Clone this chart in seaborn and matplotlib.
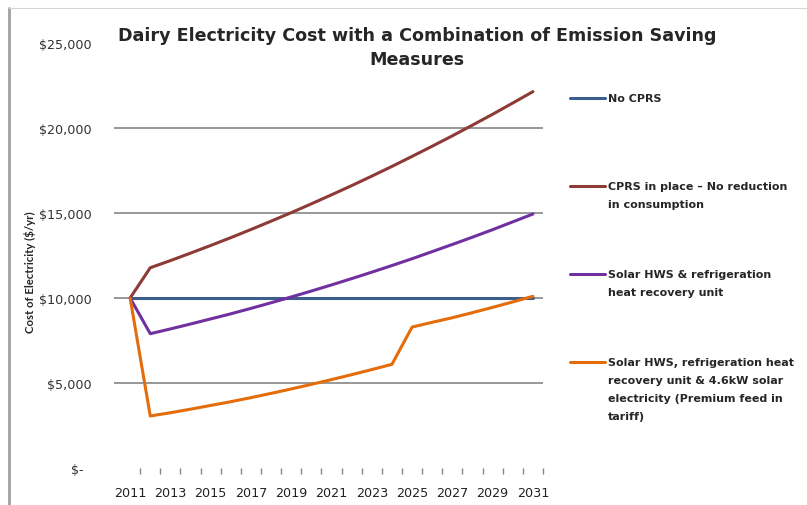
import numpy as np
import pandas as pd
import matplotlib
matplotlib.use("Agg")
import matplotlib.pyplot as plt
from matplotlib.lines import Line2D
from matplotlib.legend_handler import HandlerLine2D
from matplotlib.ticker import FuncFormatter
import seaborn as sns

# --- data ---
years = [2011, 2012, 2013, 2014, 2015, 2016, 2017, 2018, 2019, 2020, 2021,
         2022, 2023, 2024, 2025, 2026, 2027, 2028, 2029, 2030, 2031]

no_cprs = [10000, 10000, 10000, 10000, 10000, 10000, 10000, 10000, 10000, 10000, 10000,
           10000, 10000, 10000, 10000, 10000, 10000, 10000, 10000, 10000, 10000]
cprs_no_reduction = [10000, 11780, 12200, 12640, 13090, 13550, 14030, 14520, 15020, 15540, 16070,
                     16610, 17170, 17740, 18330, 18930, 19540, 20170, 20810, 21470, 22140]
solar_hws_hru = [10000, 7900, 8180, 8470, 8770, 9070, 9390, 9720, 10060, 10410, 10770,
                 11140, 11520, 11910, 12310, 12730, 13150, 13580, 14020, 14480, 14940]
solar_hws_hru_pv = [10000, 3060, 3250, 3460, 3680, 3900, 4140, 4390, 4650, 4920, 5200,
                    5490, 5790, 6100, 8290, 8570, 8840, 9140, 9450, 9770, 10100]

series_labels = [
    "No CPRS",
    "CPRS in place – No reduction\nin consumption",
    "Solar HWS & refrigeration\nheat recovery unit",
    "Solar HWS, refrigeration heat\nrecovery unit & 4.6kW solar\nelectricity (Premium feed in\ntariff)",
]
series_colors = ["#3B5E8C", "#8E3A36", "#7030A0", "#E46C0A"]

y_ticks = [0, 5000, 10000, 15000, 20000, 25000]
grid_levels = [5000, 10000, 15000, 20000]
x_labels = [2011, 2013, 2015, 2017, 2019, 2021, 2023, 2025, 2027, 2029, 2031]

title = "Dairy Electricity Cost with a Combination of Emission Saving\nMeasures"
y_label = "Cost of Electricity ($/yr)"

# --- long-format table for seaborn ---
all_values = [no_cprs, cprs_no_reduction, solar_hws_hru, solar_hws_hru_pv]
df = pd.DataFrame({
    "Year": years * len(all_values),
    "Cost": np.concatenate(all_values),
    "Scenario": np.repeat(series_labels, len(years)),
})

sns.set_style("white")
plt.rcParams["font.family"] = ["DejaVu Sans"]

W, H, DPI = 807, 506, 100
fig = plt.figure(figsize=(W / DPI, H / DPI), dpi=DPI)
ax = fig.add_axes([114 / W, 1 - 469 / H, (543 - 114) / W, (469 - 44) / H])

for lvl in grid_levels:
    ax.axhline(lvl, color="#868686", lw=1.2, zorder=1)

sns.lineplot(data=df, x="Year", y="Cost", hue="Scenario", hue_order=series_labels,
             palette=series_colors, linewidth=2.2, legend=False, ax=ax, zorder=3)

ax.set_xlim(2010.2, 2031.5)
ax.set_ylim(0, 25000)
for s in ax.spines.values():
    s.set_visible(False)

ax.set_xticks(x_labels)
ax.set_xticklabels([str(x) for x in x_labels])
ax.set_xticks(np.arange(2011.5, 2032, 1), minor=True)
ax.tick_params(axis="x", which="major", length=0, pad=13, labelsize=9.2, labelcolor="#222222")
ax.tick_params(axis="x", which="minor", length=4, width=1, color="#868686", direction="out", bottom=True)

ax.set_yticks(y_ticks)
ax.yaxis.set_major_formatter(FuncFormatter(lambda v, p: "$-  " if v == 0 else f"${v:,.0f}"))
ax.tick_params(axis="y", length=0, pad=16, labelsize=9.2, labelcolor="#333333")

ax.set_xlabel("")
ax.set_ylabel("")
fig.text(30 / W, 1 - 272 / H, y_label, rotation=90, ha="center", va="center",
         fontsize=8.2, fontweight="bold", family=["Lato", "DejaVu Sans"])

fig.text(417 / W, 1 - 48 / H, title, ha="center", va="center", fontsize=12.6,
         fontweight="bold", linespacing=1.4)

# --- legend: all entries padded to 4 lines, handle moved up onto the first line ---
leg_fs = 8.0
line_pitch_px = 16
n_lines = 4
padded = [lab + "\n" * (n_lines - 1 - lab.count("\n")) for lab in series_labels]

fs_px = leg_fs * DPI / 72
probe = fig.text(0, 0, "lp", fontsize=leg_fs, fontweight="bold")
fig.canvas.draw()
renderer = fig.canvas.get_renderer()
_, lp_h, lp_d = renderer.get_text_width_height_descent("lp", probe.get_fontproperties(), ismath=False)
probe.remove()
spacing = line_pitch_px / (lp_h - lp_d)

probe = fig.text(0, 0, padded[0], fontsize=leg_fs, fontweight="bold", linespacing=spacing)
block_h = probe.get_window_extent(renderer).height
probe.remove()
label_sep = (88 - block_h) / fs_px
shift_px = (n_lines - 1) / 2 * line_pitch_px
shift_pt = (shift_px + 3) * 72 / DPI


class FirstLineHandler(HandlerLine2D):
    def create_artists(self, legend, orig_handle, xdescent, ydescent, width, height,
                       fontsize, trans):
        artists = super().create_artists(legend, orig_handle, xdescent, ydescent, width,
                                         height, fontsize, trans)
        for a in artists:
            a.set_ydata(np.asarray(a.get_ydata()) + shift_pt)
        return artists


handles = [Line2D([], [], color=c, lw=2.2) for c in series_colors]
leg = fig.legend(handles, padded, loc="center left",
                 bbox_to_anchor=(570 / W, 1 - (234 + shift_px) / H),
                 frameon=False, borderpad=0, borderaxespad=0, handlelength=35 / fs_px,
                 handletextpad=3 / fs_px, labelspacing=label_sep,
                 prop={"size": leg_fs, "weight": "bold"},
                 handler_map={Line2D: FirstLineHandler()})
for t in leg.get_texts():
    t.set_linespacing(spacing)

# chart frame edges visible in the crop
fig.add_artist(Line2D([9 / W, 9 / W], [0, 1 - 9 / H], color="#A0A0A0", lw=2))
fig.add_artist(Line2D([9 / W, 1], [1 - 9 / H, 1 - 9 / H], color="#D6D6D6", lw=0.8))

fig.savefig("out.png", dpi=DPI)
